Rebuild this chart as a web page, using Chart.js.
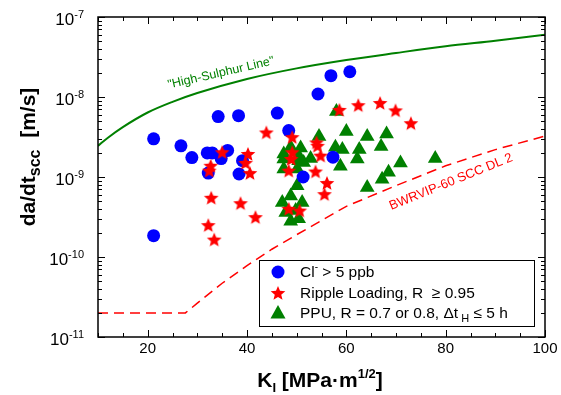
<!DOCTYPE html>
<html>
<head>
<meta charset="utf-8">
<script src="https://cdn.jsdelivr.net/npm/chart.js@4.4.1/dist/chart.umd.min.js"></script>
<style>
  html, body { margin: 0; padding: 0; background: #fff; }
  #wrap { width: 561px; height: 395px; }
</style>
</head>
<body>
<div id="wrap"><canvas id="chart" width="561" height="395"></canvas></div>
<script>
// SCC crack growth rate vs stress intensity

// Cl- > 5 ppb
const CL_K = [21.2, 21.2, 26.7, 28.9, 32.0, 33.0, 34.8, 36.1, 32.2, 34.2, 38.3, 39.1, 38.4, 46.1, 48.4, 54.3, 56.9, 60.7, 57.3, 51.3];
const CL_RATE = [3.0e-9, 1.85e-10, 2.45e-9, 1.75e-9, 2.0e-9, 2.0e-9, 1.7e-9, 2.15e-9, 1.12e-9, 5.7e-9, 5.85e-9, 1.6e-9, 1.09e-9, 6.3e-9, 3.8e-9, 1.09e-8, 1.85e-8, 2.07e-8, 1.77e-9, 1.0e-9];

// Ripple loading, R >= 0.95
const RIPPLE_K = [43.9, 35.0, 40.2, 39.7, 40.6, 32.7, 32.4, 32.8, 38.7, 41.7, 32.2, 33.4, 48.4, 50.6, 58.6, 62.4, 66.8, 69.9, 73.0, 49.1, 54.0, 54.2, 49.1, 54.8, 48.9, 48.4, 53.8, 56.1, 55.6];
const RIPPLE_RATE = [3.6e-9, 2.04e-9, 1.94e-9, 1.5e-9, 1.12e-9, 1.38e-9, 1.2e-9, 5.5e-10, 4.7e-10, 3.15e-10, 2.5e-10, 1.65e-10, 4.0e-10, 3.8e-10, 6.9e-9, 7.9e-9, 8.4e-9, 6.8e-9, 4.7e-9, 3.15e-9, 2.7e-9, 2.45e-9, 2.04e-9, 1.85e-9, 1.68e-9, 1.2e-9, 1.17e-9, 8.4e-10, 6.1e-10];

// PPU, R = 0.7 or 0.8
const PPU_K = [58.0, 60.0, 64.2, 68.1, 54.5, 67.0, 62.6, 59.2, 57.8, 62.2, 58.8, 70.9, 68.5, 67.2, 64.2, 77.9, 48.8, 47.4, 50.4, 52.8, 47.4, 50.4, 51.4, 47.4, 50.1, 50.8, 50.1, 47.1, 48.8, 51.1, 47.8, 49.8, 48.8, 50.4];
const PPU_RATE = [6.6e-9, 3.7e-9, 3.2e-9, 3.45e-9, 3.2e-9, 2.4e-9, 2.2e-9, 2.2e-9, 2.35e-9, 1.68e-9, 1.36e-9, 1.5e-9, 1.15e-9, 9.4e-10, 7.4e-10, 1.7e-9, 2.35e-9, 1.94e-9, 1.85e-9, 1.7e-9, 1.68e-9, 1.6e-9, 1.52e-9, 1.26e-9, 1.26e-9, 2.3e-9, 7.8e-10, 4.8e-10, 5.8e-10, 4.8e-10, 3.6e-10, 3.8e-10, 2.8e-10, 3.0e-10];

// "High-Sulphur Line"
const HS_K = [10, 12, 15, 20, 25, 30, 40, 50, 60, 70, 80, 90, 100];
const HS_RATE = [2.45e-9, 3.1e-9, 4.2e-9, 6.4e-9, 8.7e-9, 1.12e-8, 1.68e-8, 2.28e-8, 2.9e-8, 3.55e-8, 4.3e-8, 5.05e-8, 6.0e-8];

// BWRVIP-60 SCC DL 2
const DL2_K = [10, 27.6, 30, 35, 40, 45, 50, 60, 70, 80, 90, 100];
const DL2_RATE = [2.0e-11, 2.0e-11, 2.65e-11, 4.7e-11, 7.8e-11, 1.25e-10, 1.9e-10, 4.3e-10, 7.8e-10, 1.38e-9, 2.2e-9, 3.25e-9];

const X_MIN = 10, X_MAX = 100;
const X_TICK_LABELS = [20, 40, 60, 80, 100];
const Y_EXPONENTS = [-7, -8, -9, -10, -11];

const FONT = 'Arial, "Liberation Sans", Helvetica, sans-serif';
const BLUE = '#0000ff', RED = '#ff0000', GREEN = '#008000';

function toPoints(xs, ys) {
  return xs.map((k, i) => ({ x: k, y: ys[i] }));
}

// filled 5-point star used as point style
function makeStar(size, color) {
  const c = document.createElement('canvas');
  c.width = size; c.height = size;
  const g = c.getContext('2d');
  const cx = size / 2, cy = size / 2 + 0.6;
  const R = size / 2 - 0.3, r = R * 0.44;
  g.beginPath();
  for (let i = 0; i < 10; i++) {
    const rad = -Math.PI / 2 + i * Math.PI / 5;
    const rr = i % 2 === 0 ? R : r;
    g.lineTo(cx + Math.cos(rad) * rr, cy + Math.sin(rad) * rr);
  }
  g.closePath();
  g.fillStyle = color;
  g.fill();
  return c;
}
const STAR = makeStar(16, RED);

// draw text in pieces (sub / superscripts)
function drawRuns(ctx, runs, x, y, align) {
  let total = 0;
  runs.forEach(r => {
    ctx.font = (r.bold ? 'bold ' : '') + r.size + 'px ' + FONT;
    r.w = ctx.measureText(r.text).width;
    total += r.w;
  });
  let cx = align === 'center' ? x - total / 2 : align === 'right' ? x - total : x;
  runs.forEach(r => {
    ctx.font = (r.bold ? 'bold ' : '') + r.size + 'px ' + FONT;
    ctx.fillText(r.text, cx, y + (r.dy || 0));
    cx += r.w;
  });
}

const decorPlugin = {
  id: 'decor',
  afterDatasetsDraw(chart) {
    const { ctx, chartArea: a, scales: { x, y } } = chart;
    ctx.save();

    // frame
    ctx.strokeStyle = '#000';
    ctx.lineWidth = 1.5;
    ctx.strokeRect(a.left, a.top, a.right - a.left, a.bottom - a.top);

    // inward ticks on all four sides
    ctx.lineWidth = 1;
    ctx.beginPath();
    for (let k = X_MIN; k <= X_MAX; k += 5) {
      const px = Math.round(x.getPixelForValue(k)) + 0.5;
      const len = X_TICK_LABELS.includes(k) ? 7 : 4;
      ctx.moveTo(px, a.bottom); ctx.lineTo(px, a.bottom - len);
      ctx.moveTo(px, a.top); ctx.lineTo(px, a.top + len);
    }
    Y_EXPONENTS.forEach(e => {
      for (let m = 1; m <= 9; m++) {
        if (e === -7 && m > 1) break;
        const py = Math.round(y.getPixelForValue(m * Math.pow(10, e))) + 0.5;
        const len = m === 1 ? 7 : 4;
        ctx.moveTo(a.left, py); ctx.lineTo(a.left + len, py);
        ctx.moveTo(a.right, py); ctx.lineTo(a.right - len, py);
      }
    });
    ctx.stroke();

    // tick labels
    ctx.fillStyle = '#000';
    ctx.textBaseline = 'alphabetic';
    X_TICK_LABELS.forEach(k => {
      ctx.font = '15px ' + FONT;
      ctx.textAlign = 'center';
      ctx.fillText(String(k), x.getPixelForValue(k), 353);
    });
    ctx.textAlign = 'left';
    Y_EXPONENTS.forEach(e => {
      const py = y.getPixelForValue(Math.pow(10, e));
      drawRuns(ctx, [
        { text: '10', size: 17 },
        { text: String(e), size: 11, dy: -7 }
      ], 84, py + 8, 'right');
    });

    // axis titles
    drawRuns(ctx, [
      { text: 'K', size: 21, bold: true },
      { text: 'I', size: 13, bold: true, dy: 5 },
      { text: ' [MPa\u00b7m', size: 21, bold: true },
      { text: '1/2', size: 13, bold: true, dy: -9 },
      { text: ']', size: 21, bold: true }
    ], 320, 387, 'center');

    ctx.save();
    ctx.translate(35, 157);
    ctx.rotate(-Math.PI / 2);
    drawRuns(ctx, [
      { text: 'da/dt', size: 21, bold: true },
      { text: 'scc', size: 16, bold: true, dy: 5 },
      { text: '  [m/s]', size: 21, bold: true }
    ], 0, 0, 'center');
    ctx.restore();

    // line labels
    ctx.save();
    ctx.translate(221, 73);
    ctx.rotate(-13 * Math.PI / 180);
    ctx.fillStyle = GREEN;
    ctx.font = '12.5px ' + FONT;
    ctx.textAlign = 'center';
    ctx.textBaseline = 'middle';
    ctx.fillText('"High-Sulphur Line"', 0, 0);
    ctx.restore();

    ctx.save();
    ctx.translate(451, 182);
    ctx.rotate(-22 * Math.PI / 180);
    ctx.fillStyle = RED;
    ctx.font = '13px ' + FONT;
    ctx.textAlign = 'center';
    ctx.textBaseline = 'middle';
    ctx.fillText('BWRVIP-60 SCC DL 2', 0, 0);
    ctx.restore();

    // legend
    ctx.fillStyle = '#fff';
    ctx.fillRect(259.5, 260.5, 275, 66);
    ctx.strokeStyle = '#000';
    ctx.lineWidth = 1;
    ctx.strokeRect(259.5, 260.5, 275, 66);

    const mx = 278;
    ctx.fillStyle = BLUE;
    ctx.beginPath();
    ctx.arc(mx, 272, 6.5, 0, Math.PI * 2);
    ctx.fill();
    ctx.drawImage(STAR, mx - 8, 293 - 8);
    ctx.fillStyle = GREEN;
    ctx.beginPath();
    ctx.moveTo(mx, 305);
    ctx.lineTo(mx + 7.5, 318.5);
    ctx.lineTo(mx - 7.5, 318.5);
    ctx.closePath();
    ctx.fill();

    ctx.fillStyle = '#000';
    ctx.textAlign = 'left';
    ctx.textBaseline = 'alphabetic';
    drawRuns(ctx, [
      { text: 'Cl', size: 15.5 },
      { text: '-', size: 10, dy: -7 },
      { text: ' > 5 ppb', size: 15.5 }
    ], 300, 277, 'left');
    drawRuns(ctx, [
      { text: 'Ripple Loading, R  \u2265 0.95', size: 15.5 }
    ], 300, 298, 'left');
    drawRuns(ctx, [
      { text: 'PPU, R = 0.7 or 0.8, \u0394t', size: 15.5 },
      { text: ' H', size: 11, dy: 4 },
      { text: ' \u2264 5 h', size: 15.5 }
    ], 300, 318, 'left');

    ctx.restore();
  }
};

new Chart(document.getElementById('chart'), {
  type: 'scatter',
  data: {
    datasets: [
      {
        label: 'Ripple Loading, R \u2265 0.95',
        data: toPoints(RIPPLE_K, RIPPLE_RATE),
        pointStyle: STAR,
        pointRadius: 8,
        order: 1
      },
      {
        label: 'Cl- > 5 ppb',
        data: toPoints(CL_K, CL_RATE),
        pointStyle: 'circle',
        pointRadius: 6.5,
        backgroundColor: BLUE,
        borderWidth: 0,
        order: 2
      },
      {
        label: 'PPU, R = 0.7 or 0.8',
        data: toPoints(PPU_K, PPU_RATE),
        pointStyle: 'triangle',
        pointRadius: 8.5,
        backgroundColor: GREEN,
        borderWidth: 0,
        order: 3
      },
      {
        label: 'High-Sulphur Line',
        data: toPoints(HS_K, HS_RATE),
        showLine: true,
        pointRadius: 0,
        borderColor: GREEN,
        borderWidth: 2,
        cubicInterpolationMode: 'monotone',
        order: 4
      },
      {
        label: 'BWRVIP-60 SCC DL 2',
        data: toPoints(DL2_K, DL2_RATE),
        showLine: true,
        pointRadius: 0,
        borderColor: RED,
        borderWidth: 1.5,
        borderDash: [10, 6],
        order: 5
      }
    ]
  },
  options: {
    responsive: false,
    animation: false,
    events: [],
    layout: { padding: { left: 98, right: 16, top: 17, bottom: 58 } },
    plugins: {
      legend: { display: false },
      tooltip: { enabled: false }
    },
    scales: {
      x: {
        type: 'linear',
        min: X_MIN,
        max: X_MAX,
        grid: { display: false },
        border: { display: false },
        ticks: { display: false },
        afterFit(scale) { scale.height = 0; }
      },
      y: {
        type: 'logarithmic',
        min: 1e-11,
        max: 1e-7,
        grid: { display: false },
        border: { display: false },
        ticks: { display: false },
        afterFit(scale) { scale.width = 0; }
      }
    }
  },
  plugins: [decorPlugin]
});
</script>
</body>
</html>
